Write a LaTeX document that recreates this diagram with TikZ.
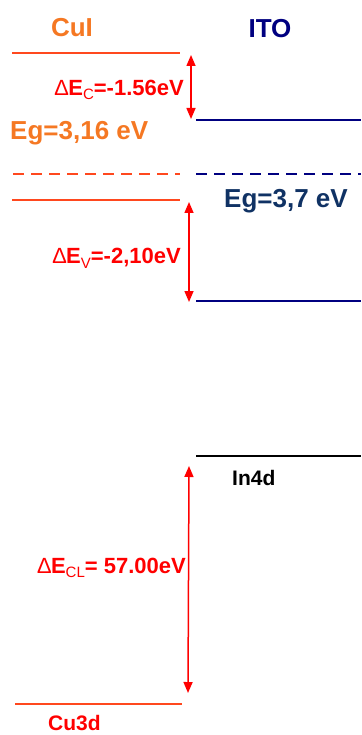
\documentclass[tikz,border=0pt]{standalone}
\usepackage{fontspec}
\setmainfont{Liberation Sans}
\usetikzlibrary{arrows.meta}
\definecolor{cuiorange}{RGB}{245,120,35}
\definecolor{cuiline}{RGB}{255,72,30}
\definecolor{dred}{RGB}{255,0,0}
\definecolor{itonavy}{RGB}{0,0,128}
\definecolor{itoeg}{RGB}{16,50,100}
\newcommand{\subtxt}[1]{\raisebox{-0.4ex}{\fontsize{15}{15}\selectfont\mdseries #1}}
\tikzset{
  big/.style={font=\fontsize{26}{30}\selectfont\bfseries, inner sep=0pt},
  mid/.style={font=\fontsize{22}{26}\selectfont\bfseries, inner sep=0pt},
  sml/.style={font=\fontsize{21}{24}\selectfont\bfseries, inner sep=0pt},
  cuilevel/.style={draw=cuiline, line width=2.4pt},
  itolevel/.style={draw=itonavy, line width=2.4pt},
  darrow/.style={draw=dred, line width=1.5pt, {Triangle[length=11pt,width=9pt]}-{Triangle[length=11pt,width=9pt]}},
}
\begin{document}
\begin{tikzpicture}[x=1pt,y=-1pt]
\useasboundingbox (0,0) rectangle (361,735);
% labels
\node[big, text=cuiorange] (cui) at (72,28) {CuI};
\node[big, text=itonavy] (ito) at (270,29) {ITO};
\node[big, text=cuiorange, anchor=west] (egcui) at (10,133) {Eg=3,16 eV};
\node[big, text=itoeg, anchor=west] (egito) at (224,201) {Eg=3,7 eV};
\node[mid, text=dred, anchor=east] (dec) at (184,90) {\mdseries∆\bfseries E\subtxt{C}=-1.56eV};
\node[mid, text=dred, anchor=east] (dev) at (181,258) {\mdseries∆\bfseries E\subtxt{V}=-2,10eV};
\node[mid, text=dred, anchor=east] (decl) at (186,568) {\mdseries∆\bfseries E\subtxt{CL}= 57.00eV};
\node[sml, text=black, anchor=west] (in4d) at (232,478) {In4d};
\node[sml, text=dred, anchor=west] (cu3d) at (48,723) {Cu3d};
% level endpoints
\coordinate (cbcA) at (12,53);   \coordinate (cbcB) at (180,53);
\coordinate (cbiA) at (196,120); \coordinate (cbiB) at (361,120);
\coordinate (efcA) at (13,174);  \coordinate (efcB) at (180,174);
\coordinate (efiA) at (196,174); \coordinate (efiB) at (361,174);
\coordinate (vbcA) at (12,200);  \coordinate (vbcB) at (180,200);
\coordinate (vbiA) at (196,301); \coordinate (vbiB) at (361,301);
\coordinate (indA) at (196,456); \coordinate (indB) at (361,456);
\coordinate (cudA) at (15,704);  \coordinate (cudB) at (182,704);
% levels
\draw[cuilevel] (cbcA) -- (cbcB);
\draw[itolevel] (cbiA) -- (cbiB);
\draw[cuilevel, dash pattern=on 11pt off 7pt] (efcA) -- (efcB);
\draw[itolevel, dash pattern=on 11pt off 7pt] (efiA) -- (efiB);
\draw[cuilevel] (vbcA) -- (vbcB);
\draw[itolevel] (vbiA) -- (vbiB);
\draw[draw=black, line width=2.4pt] (indA) -- (indB);
\draw[cuilevel] (cudA) -- (cudB);
% arrows
\coordinate (a1t) at (191,55);  \coordinate (a1b) at (191,119);
\coordinate (a2t) at (189,202); \coordinate (a2b) at (189,302);
\coordinate (a3t) at (189,466); \coordinate (a3b) at (188,693);
\draw[darrow] (a1t) -- (a1b);
\draw[darrow] (a2t) -- (a2b);
\draw[darrow] (a3t) -- (a3b);
\end{tikzpicture}
\end{document}
